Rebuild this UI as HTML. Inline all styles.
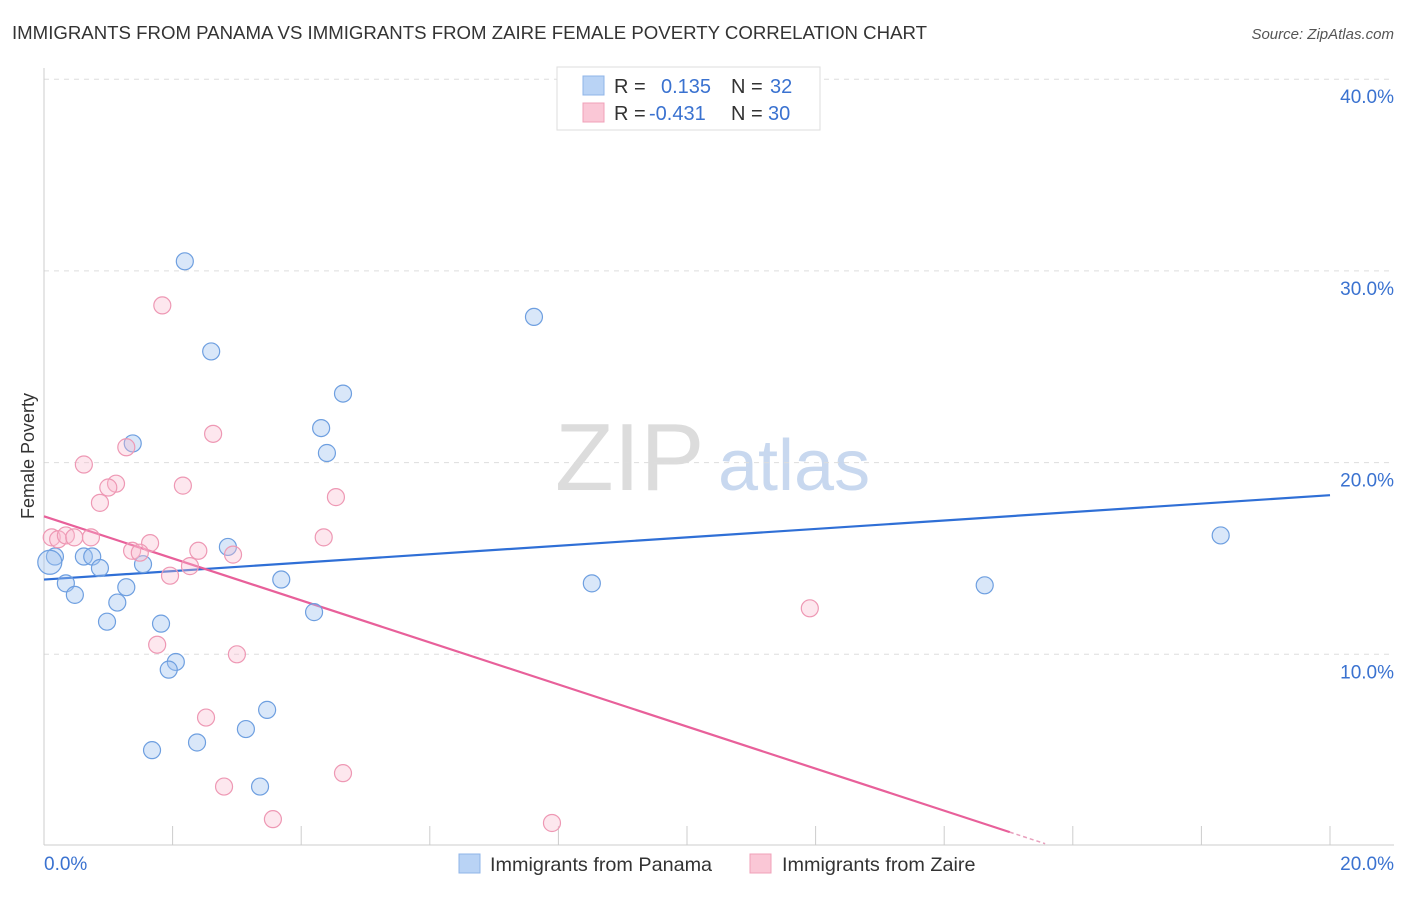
<!DOCTYPE html>
<html><head><meta charset="utf-8"><style>
body{margin:0;background:#fff;font-family:"Liberation Sans",sans-serif;}
svg text{font-family:"Liberation Sans",sans-serif;}
</style></head><body>
<svg id="chart" width="1406" height="892" xmlns="http://www.w3.org/2000/svg">
<text x="12" y="39" font-size="18" fill="#333" textLength="915" lengthAdjust="spacingAndGlyphs">IMMIGRANTS FROM PANAMA VS IMMIGRANTS FROM ZAIRE FEMALE POVERTY CORRELATION CHART</text>
<text x="1394" y="39" font-size="15" fill="#555" font-style="italic" text-anchor="end">Source: ZipAtlas.com</text>
<g>
<text x="555" y="490" font-size="96" fill="#dcdcdc" font-family="Liberation Serif,serif">ZIP</text>
<text x="718" y="490" font-size="72" fill="#c8d8ef">atlas</text>
</g>
<g id="grid"></g><g id="axes"></g><g id="lines"></g><g id="pts"></g>
<g>
<rect x="557" y="67" width="263" height="63" fill="#fff" stroke="#ddd"/>
<rect x="583" y="76" width="21" height="19" fill="#b9d3f5" stroke="#8fb4e8"/>
<rect x="583" y="103" width="21" height="19" fill="#fac7d6" stroke="#f0a0b8"/>
<text x="614" y="93" font-size="20" fill="#333">R =</text>
<text x="661" y="93" font-size="20" fill="#3a72d0">0.135</text>
<text x="731" y="93" font-size="20" fill="#333">N =</text>
<text x="770" y="93" font-size="20" fill="#3a72d0">32</text>
<text x="614" y="120" font-size="20" fill="#333">R =</text>
<text x="649" y="120" font-size="20" fill="#3a72d0">-0.431</text>
<text x="731" y="120" font-size="20" fill="#333">N =</text>
<text x="768" y="120" font-size="20" fill="#3a72d0">30</text>
</g>
<g>
<rect x="459" y="854" width="21" height="19" fill="#b9d3f5" stroke="#8fb4e8"/>
<text x="490" y="871" font-size="19.8" fill="#333">Immigrants from Panama</text>
<rect x="750" y="854" width="21" height="19" fill="#fac7d6" stroke="#f0a0b8"/>
<text x="782" y="871" font-size="19.8" fill="#333">Immigrants from Zaire</text>
</g>
<text transform="translate(34,456) rotate(-90)" font-size="18" fill="#333" text-anchor="middle">Female Poverty</text>
</svg>
<script>
const yTicks=[10,20,30,40];
const yTickLabels=["10.0%","20.0%","30.0%","40.0%"];
const xTicks=[0,2,4,6,8,10,12,14,16,18,20];
const blueX=[2.19,2.60,7.62,4.65,4.31,4.40,1.38,0.17,0.62,0.75,0.87,1.54,0.34,0.48,1.28,1.14,0.98,1.82,2.86,3.69,4.20,2.05,1.94,3.47,3.14,2.38,1.68,3.36,8.52,14.63,18.30,0.09];
const blueY=[30.5,25.8,27.6,23.6,21.8,20.5,21.0,15.1,15.1,15.1,14.5,14.7,13.7,13.1,13.5,12.7,11.7,11.6,15.6,13.9,12.2,9.6,9.2,7.1,6.1,5.4,5.0,3.1,13.7,13.6,16.2,14.8];
const pinkX=[1.84,2.63,0.62,1.28,1.12,1.00,0.87,2.16,4.54,0.12,0.22,0.34,0.47,0.73,1.65,1.37,1.49,2.40,2.94,4.35,1.96,2.27,11.91,1.76,3.00,2.52,4.65,2.80,3.56,7.90];
const pinkY=[28.2,21.5,19.9,20.8,18.9,18.7,17.9,18.8,18.2,16.1,16.0,16.2,16.1,16.1,15.8,15.4,15.3,15.4,15.2,16.1,14.1,14.6,12.4,10.5,10.0,6.7,3.8,3.1,1.4,1.2];
const blueTrend=[13.9,18.3];
const pinkTrend=[17.2,-1.097];
const pinkSolidEnd=15.02, pinkDashEnd=15.57;
const NS="http://www.w3.org/2000/svg";
const sx=v=>44+v/20*1286, sy=v=>846-v*19.17;
function mk(t,a,p){const e=document.createElementNS(NS,t);for(const k in a)e.setAttribute(k,a[k]);document.getElementById(p).appendChild(e);return e;}
yTicks.forEach((t,i)=>{
 const l=mk('line',{x1:44,x2:1394,y1:sy(t),y2:sy(t),stroke:'#ddd','stroke-dasharray':'5,5'},'grid');
 
 
 const tx=mk('text',{x:1394,y:sy(t)+24,'font-size':19,fill:'#3a72d0','text-anchor':'end'},'axes');
 tx.textContent=yTickLabels[i];
 
 
});
let a=mk('line',{x1:44,x2:44,y1:68,y2:845,stroke:'#ccc'},'axes');


a=mk('line',{x1:44,x2:1394,y1:845,y2:845,stroke:'#ccc'},'axes');


xTicks.forEach(t=>{const l=mk('line',{x1:sx(t),x2:sx(t),y1:826,y2:845,stroke:'#ccc'},'axes');
 
 });
let t=mk('text',{x:44,y:870,'font-size':19,fill:'#3a72d0'},'axes');t.textContent='0.0%';


t=mk('text',{x:1394,y:870,'font-size':19,fill:'#3a72d0','text-anchor':'end'},'axes');t.textContent='20.0%';


blueX.forEach((x,i)=>{const c=mk('circle',{cx:sx(x),cy:sy(blueY[i]),r:i==31?12:8.5,fill:'rgba(160,195,240,0.4)',stroke:'#6e9fe0','stroke-width':1.2},'pts');
 
 });
pinkX.forEach((x,i)=>{const c=mk('circle',{cx:sx(x),cy:sy(pinkY[i]),r:8.5,fill:'rgba(248,185,205,0.35)',stroke:'#ee98b4','stroke-width':1.2},'pts');
 
 });
let ln=mk('line',{x1:sx(0),y1:sy(blueTrend[0]),x2:sx(20),y2:sy(blueTrend[1]),stroke:'#2f6fd6','stroke-width':2.2},'lines');


const py=x=>pinkTrend[0]+pinkTrend[1]*x;
ln=mk('line',{x1:sx(0),y1:sy(py(0)),x2:sx(pinkSolidEnd),y2:sy(py(pinkSolidEnd)),stroke:'#e8609a','stroke-width':2.2},'lines');


ln=mk('line',{x1:sx(pinkSolidEnd),y1:sy(py(pinkSolidEnd)),x2:sx(pinkDashEnd),y2:sy(py(pinkDashEnd)),stroke:'#e8a0bd','stroke-width':1.5,'stroke-dasharray':'4,3'},'lines');


</script>
</body></html>
